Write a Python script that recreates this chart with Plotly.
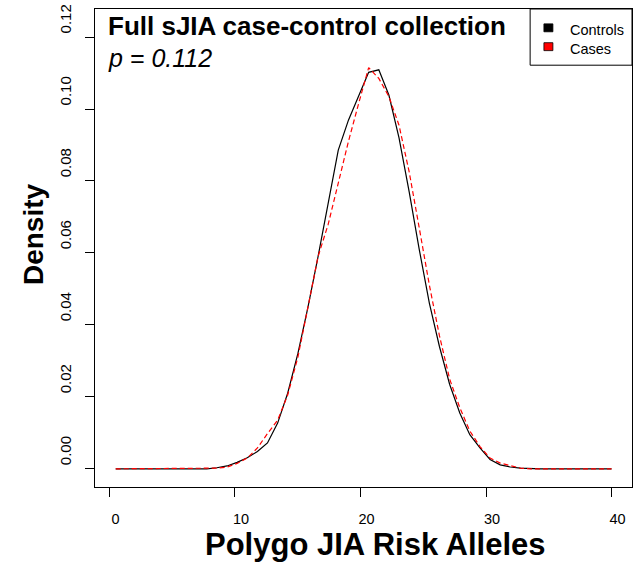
import plotly.graph_objects as go

# ---- data ----
alleles = [0.5, 1.31, 2.11, 2.92, 3.72, 4.53, 5.34, 6.14, 6.95, 7.76,
           8.56, 9.37, 10.17, 10.98, 11.79, 12.59, 13.4, 14.2, 15.01, 15.82,
           16.62, 17.43, 18.23, 19.04, 19.85, 20.65, 21.46, 22.26, 23.07, 23.88,
           24.68, 25.49, 26.29, 27.1, 27.91, 28.71, 29.52, 30.32, 31.13, 31.94,
           32.74, 33.55, 34.35, 35.16, 35.97, 36.77, 37.58, 38.38, 39.19, 40.0]

controls = [0, 0, 0, 0, 0, 0, 0, 0, 0, 0,
            0.0003, 0.0008, 0.0018, 0.0031, 0.0048, 0.0072, 0.0127, 0.021, 0.032, 0.045,
            0.059, 0.074, 0.0886, 0.0969, 0.1036, 0.1102, 0.1109, 0.1039, 0.092, 0.077,
            0.061, 0.046, 0.034, 0.0235, 0.0155, 0.0095, 0.0058, 0.0026, 0.0011, 0.0005,
            0.0002, 0, 0, 0, 0, 0, 0, 0, 0, 0]

cases = [0, 0, 0, 0, 0, 0, 0, 0, 0, 0,
         0.0002, 0.0005, 0.0015, 0.003, 0.0058, 0.0098, 0.0135, 0.0205, 0.031, 0.045,
         0.059, 0.068, 0.0796, 0.091, 0.1015, 0.1115, 0.1085, 0.1035, 0.0955, 0.0825,
         0.067, 0.051, 0.037, 0.025, 0.017, 0.0105, 0.0062, 0.003, 0.0016, 0.0008,
         0.0002, 0, 0, 0, 0, 0, 0, 0, 0, 0]

x_ticks = [0, 10, 20, 30, 40]
y_ticks = [0.00, 0.02, 0.04, 0.06, 0.08, 0.10, 0.12]
y_tick_text = ["0.00", "0.02", "0.04", "0.06", "0.08", "0.10", "0.12"]

title_text = "<b>Full sJIA case-control collection</b>"
p_text = "<i>p = 0.112</i>"
legend_labels = ["Controls", "Cases"]
legend_colors = ["black", "red"]

FONT = "Liberation Sans, Arial, Helvetica, sans-serif"
W, H = 637, 563
L, R, T, B = 95, 632.7, 5, 487.3


def px(x):
    return (x - L) / (R - L)


def py(y):
    return (B - y) / (B - T)


fig = go.Figure()
fig.add_trace(go.Scatter(x=alleles, y=controls, mode="lines",
                         line=dict(color="black", width=1.2),
                         showlegend=False, hoverinfo="skip"))
fig.add_trace(go.Scatter(x=alleles, y=cases, mode="lines",
                         line=dict(color="red", width=1.2, dash="5px,3px"),
                         showlegend=False, hoverinfo="skip"))

fig.update_layout(
    width=W, height=H,
    margin=dict(l=L, r=W - R, t=T, b=H - B, pad=0),
    paper_bgcolor="white", plot_bgcolor="white",
    font=dict(family=FONT, color="black"),
    xaxis=dict(range=[-1.15, 41.63], tickvals=x_ticks, ticks="outside", ticklen=9,
               tickwidth=1, tickcolor="black", showline=True, linecolor="black",
               linewidth=1, mirror=True, showgrid=False, zeroline=False,
               tickfont=dict(size=14.5, family=FONT), ticklabelshift=6,
               ticklabelstandoff=10),
    yaxis=dict(range=[-0.00505, 0.1278], tickvals=y_ticks, ticktext=y_tick_text,
               ticks="outside", ticklen=9, tickwidth=1, tickcolor="black",
               showline=True, linecolor="black", linewidth=1, mirror=True,
               showgrid=False, zeroline=False, tickangle=-90,
               tickfont=dict(size=15, family=FONT), ticklabelshift=-16,
               ticklabelstandoff=8),
)

ann = []
ann.append(dict(text=title_text, x=px(106), y=py(22), xref="paper", yref="paper",
                xanchor="left", yanchor="middle", showarrow=False,
                font=dict(size=26, family=FONT)))
ann.append(dict(text=p_text, x=px(106), y=py(54), xref="paper", yref="paper",
                xanchor="left", yanchor="middle", showarrow=False,
                font=dict(size=25, family=FONT)))
ann.append(dict(text="<b>Density</b>", x=px(34), y=py(232), xref="paper", yref="paper",
                xanchor="center", yanchor="middle", showarrow=False, textangle=-90,
                font=dict(size=28, family=FONT)))
ann.append(dict(text="<b>Polygo JIA Risk Alleles</b>", x=px(376), y=py(545),
                xref="paper", yref="paper", xanchor="center", yanchor="middle",
                showarrow=False, font=dict(size=31, family=FONT)))

shapes = []
# legend box
shapes.append(dict(type="rect", xref="paper", yref="paper",
                   x0=px(530.7), x1=px(632.7), y0=py(61.7), y1=py(5),
                   line=dict(color="black", width=1), fillcolor="white", layer="above"))
leg_y = [24, 43]
for lab, col, yy in zip(legend_labels, legend_colors, leg_y):
    shapes.append(dict(type="rect", xref="paper", yref="paper",
                       x0=px(544.5), x1=px(553.5), y0=py(yy + 4), y1=py(yy - 4),
                       line=dict(color="black", width=0.8), fillcolor=col, layer="above"))
    ann.append(dict(text=lab, x=px(569), y=py(yy + 2.5), xref="paper", yref="paper",
                    xanchor="left", yanchor="middle", showarrow=False,
                    font=dict(size=14.5, family=FONT)))

fig.update_layout(annotations=ann, shapes=shapes)
fig.write_html("out.html", config={"displayModeBar": False})
